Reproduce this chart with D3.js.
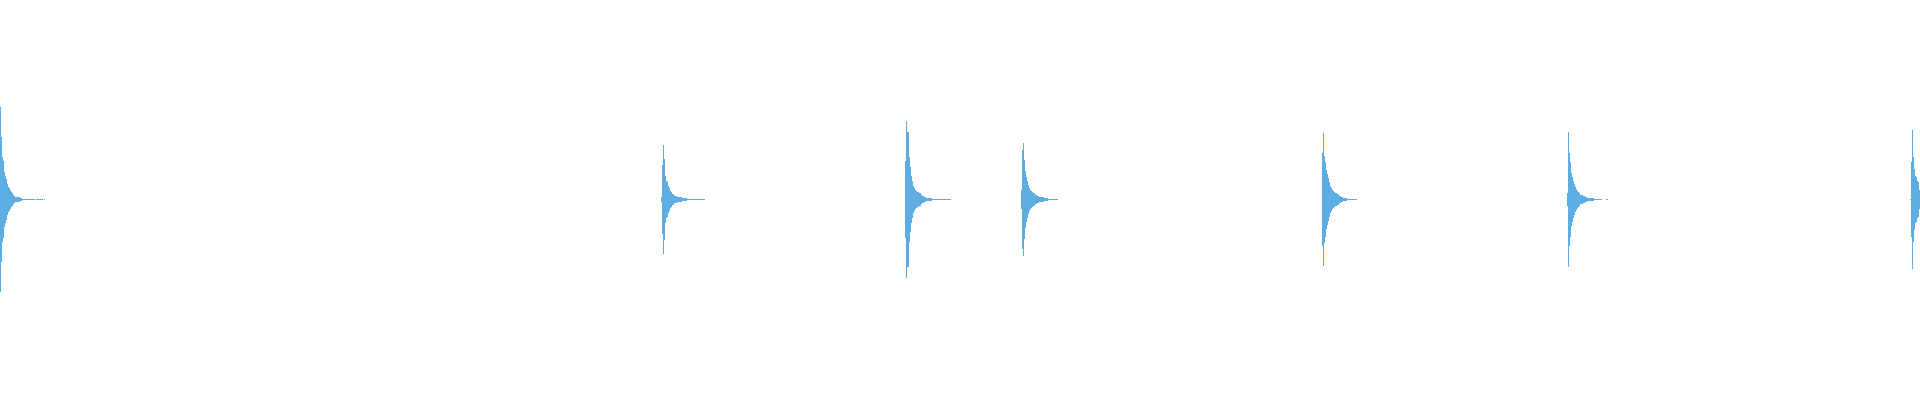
<!DOCTYPE html>
<html>
<head>
<meta charset="utf-8">
<script src="https://cdn.jsdelivr.net/npm/d3@7"></script>
<style>
  html, body { margin: 0; padding: 0; background: #fff; overflow: hidden; }
</style>
</head>
<body>
<svg id="wave"></svg>
<script>
// waveform peaks, one value per pixel bin, in % of full scale
const totalBins = 1920;
const burstStarts = [0, 661, 905, 1021, 1322, 1567, 1910];

const burst1 = [46.5, 31.5, 21.5, 19.5, 14, 12, 10.5, 8, 6.5, 6, 5, 4, 3.5, 2.5, 2, 1.5, 1.5, 1.5, 1.5, 1.5,
  1, 1, 0.5, 0.5, 0.5, 0.5, 0.25, 0.25, 0.25, 0.25, 0.25, 0.25, 0.25, 0.25, 0.25, 0,
  0.25, 0.25, 0.25, 0.25, 0.25, 0.25, 0.25, 0, 0.25];
const burst2 = [1.5, 17.5, 27.5, 20.5, 12, 9.5, 9, 7, 6, 4.5, 4, 3, 3, 2, 2, 2, 1.5, 1.5, 1.5, 1.5, 1.5,
  1, 1, 1, 1, 1, 0.5, 0.5, 0.5, 0.5,
  0.25, 0.25, 0.25, 0.25, 0.25, 0.25, 0.25, 0.25, 0.25, 0.25, 0.25, 0.25, 0.25, 0.25];
const burst3 = [19.5, 39.5, 34, 34, 21.5, 16.5, 12, 9.5, 7, 6, 5, 4.5, 4, 4, 3.5, 3.5, 2.5, 2, 2, 1.5, 1.5,
  1, 1, 1, 1, 1, 1, 0.5, 0.5, 0.5, 0.5,
  0.25, 0.25, 0.25, 0.25, 0.25, 0.25, 0.25, 0.25, 0.25, 0.25, 0.25, 0.25, 0.25, 0.25, 0.25];
const burst4 = [5, 25, 28.5, 20, 14.5, 11.5, 9.5, 7.5, 6, 5, 4.5, 4, 3.5, 3.5, 2.5, 2.5, 2, 2,
  1.5, 1.5, 1.5, 1.5, 1.5, 1, 1, 1, 1, 0.5, 0.5, 0.5, 0.5,
  0.25, 0.25, 0.25, 0.25, 0.25, 0.25];
const burst5 = [23.5, 33.5, 22, 19, 15, 13, 11, 9, 7, 6, 5, 4.5, 4, 3.5, 3.5, 3, 3, 2, 2, 1.5, 1.5,
  1, 1, 1, 1, 0.5, 0.5, 0.5,
  0.25, 0.25, 0.25, 0.25, 0.25, 0.25, 0.25];
const burst6 = [3.5, 34, 23.5, 19, 13.5, 11.5, 9.5, 8, 6.5, 5.5, 4.5, 4, 3.5, 2.5, 2.5, 2.5, 2, 2, 1.5, 1.5,
  1, 1, 1, 1, 1, 1, 1, 0.5, 0.5, 0.5,
  0.25, 0.25, 0.25, 0.25, 0.25, 0, 0, 0, 0, 0.25, 0.25];
const burst7 = [0.25, 19, 35, 21.5, 15.5, 12, 11.5, 9.5, 9, 5];

const bursts = [burst1, burst2, burst3, burst4, burst5, burst6, burst7];

const width = 1920, height = 400;
const waveColor = '#5dade2';

const peaks = [];
bursts.forEach((b, k) => {
  b.forEach((v, i) => peaks.push({ bin: burstStarts[k] + i, value: v }));
});

const svg = d3.select('#wave')
  .attr('width', width)
  .attr('height', height)
  .attr('viewBox', `0 0 ${width} ${height}`);

const x = d3.scaleLinear()
  .domain([0, totalBins])
  .range([0, width]);
const y = d3.scaleLinear()
  .domain([-100, 100])
  .range([height - 1, 0]);

svg.append('g')
  .attr('class', 'peaks')
  .selectAll('rect')
  .data(peaks.filter(d => d.value > 0))
  .enter()
    .append('rect')
      .attr('x', d => x(d.bin))
      .attr('width', x(1) - x(0))
      .attr('y', d => y(d.value))
      .attr('height', d => Math.max(1, y(-d.value) - y(d.value)))
      .attr('shape-rendering', 'crispEdges')
      .style('fill', waveColor);
</script>
</body>
</html>
